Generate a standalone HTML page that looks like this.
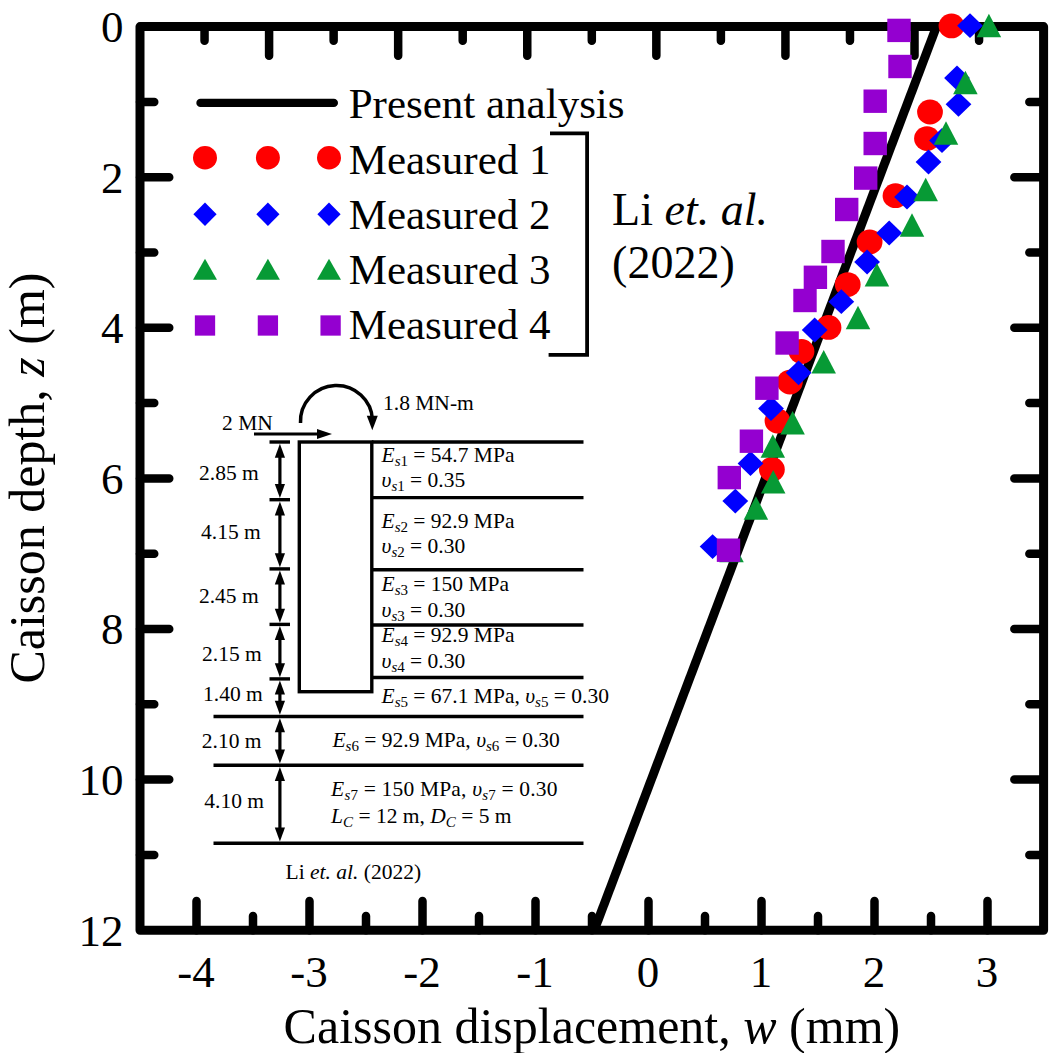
<!DOCTYPE html><html><head><meta charset="utf-8"><style>
html,body{margin:0;padding:0;background:#fff;}
svg{display:block;}
text{font-family:"Liberation Serif", serif;fill:#000;}
.it{font-style:italic;}
</style></head><body>
<svg width="1050" height="1053" viewBox="0 0 1050 1053">
<rect width="1050" height="1053" fill="#fff"/>
<g stroke="#000" fill="none" stroke-width="3.4">
<rect x="299.3" y="442" width="72.5" height="249.7"/>
<path d="M371.8 442H583.5"/>
<path d="M371.8 497.6H583.5"/>
<path d="M371.8 569.8H583.5"/>
<path d="M371.8 625H583.5"/>
<path d="M371.8 677.5H583.5"/>
<path d="M213.5 716.5H583.5"/>
<path d="M213.5 765.2H583.5"/>
<path d="M213.5 843.3H583.5"/>
<path d="M269.5 442H290"/>
<path d="M269.5 499.7H290"/>
<path d="M269.5 568.9H290"/>
<path d="M269.5 624.4H290"/>
<path d="M269.5 678.9H290"/>
</g>
<g stroke="#000" stroke-width="3.2" fill="none">
<path d="M279.9 455.7V486.0"/>
<path d="M279.9 513.4V555.1999999999999"/>
<path d="M279.9 582.6V610.6999999999999"/>
<path d="M279.9 638.1V665.1999999999999"/>
<path d="M279.9 692.6V702.8"/>
<path d="M279.9 730.2V751.5"/>
<path d="M279.9 778.9000000000001V829.5999999999999"/>
</g>
<g fill="#000">
<path d="M279.9 443.7L285 457.7L274.8 457.7Z"/>
<path d="M279.9 498.0L285 484.0L274.8 484.0Z"/>
<path d="M279.9 501.4L285 515.4L274.8 515.4Z"/>
<path d="M279.9 567.1999999999999L285 553.1999999999999L274.8 553.1999999999999Z"/>
<path d="M279.9 570.6L285 584.6L274.8 584.6Z"/>
<path d="M279.9 622.6999999999999L285 608.6999999999999L274.8 608.6999999999999Z"/>
<path d="M279.9 626.1L285 640.1L274.8 640.1Z"/>
<path d="M279.9 677.1999999999999L285 663.1999999999999L274.8 663.1999999999999Z"/>
<path d="M279.9 680.6L285 694.6L274.8 694.6Z"/>
<path d="M279.9 714.8L285 700.8L274.8 700.8Z"/>
<path d="M279.9 718.2L285 732.2L274.8 732.2Z"/>
<path d="M279.9 763.5L285 749.5L274.8 749.5Z"/>
<path d="M279.9 766.9000000000001L285 780.9000000000001L274.8 780.9000000000001Z"/>
<path d="M279.9 841.5999999999999L285 827.5999999999999L274.8 827.5999999999999Z"/>
</g>
<path d="M254 434H319" stroke="#000" stroke-width="3.2" fill="none"/>
<path d="M332 434L317 429L317 439Z" fill="#000"/>
<path d="M300.5 423A36 36 0 1 1 372.5 420" stroke="#000" stroke-width="3.5" fill="none"/>
<path d="M372.3 430.2L366.8 415.7L377.8 415.7Z" fill="#000"/>
<text x="222" y="430" font-size="21.5">2 MN</text>
<text x="383" y="409.7" font-size="21.5">1.8 MN-m</text>
<text x="199" y="479.8" font-size="21.5">2.85 m</text>
<text x="201" y="539.2" font-size="21.5">4.15 m</text>
<text x="198.9" y="603" font-size="21.5">2.45 m</text>
<text x="202" y="661.4" font-size="21.5">2.15 m</text>
<text x="203" y="700.6" font-size="21.5">1.40 m</text>
<text x="201.8" y="747.5" font-size="21.5">2.10 m</text>
<text x="204.3" y="808.3" font-size="21.5">4.10 m</text>
<text x="381.5" y="461.8" font-size="21.5"><tspan class="it">E</tspan><tspan class="it" font-size="15" dy="4">s</tspan><tspan font-size="15">1</tspan><tspan dy="-4"> = 54.7 MPa</tspan></text>
<text x="381.5" y="487.4" font-size="21.5"><tspan class="it">υ</tspan><tspan class="it" font-size="15" dy="4">s</tspan><tspan font-size="15">1</tspan><tspan dy="-4"> = 0.35</tspan></text>
<text x="381.5" y="527.5" font-size="21.5"><tspan class="it">E</tspan><tspan class="it" font-size="15" dy="4">s</tspan><tspan font-size="15">2</tspan><tspan dy="-4"> = 92.9 MPa</tspan></text>
<text x="381.5" y="552.7" font-size="21.5"><tspan class="it">υ</tspan><tspan class="it" font-size="15" dy="4">s</tspan><tspan font-size="15">2</tspan><tspan dy="-4"> = 0.30</tspan></text>
<text x="381.5" y="590.5" font-size="21.5"><tspan class="it">E</tspan><tspan class="it" font-size="15" dy="4">s</tspan><tspan font-size="15">3</tspan><tspan dy="-4"> = 150 MPa</tspan></text>
<text x="381.5" y="617" font-size="21.5"><tspan class="it">υ</tspan><tspan class="it" font-size="15" dy="4">s</tspan><tspan font-size="15">3</tspan><tspan dy="-4"> = 0.30</tspan></text>
<text x="381.5" y="642" font-size="21.5"><tspan class="it">E</tspan><tspan class="it" font-size="15" dy="4">s</tspan><tspan font-size="15">4</tspan><tspan dy="-4"> = 92.9 MPa</tspan></text>
<text x="381.5" y="668.3" font-size="21.5"><tspan class="it">υ</tspan><tspan class="it" font-size="15" dy="4">s</tspan><tspan font-size="15">4</tspan><tspan dy="-4"> = 0.30</tspan></text>
<text x="381.5" y="703" font-size="21.5"><tspan class="it">E</tspan><tspan class="it" font-size="15" dy="4">s</tspan><tspan font-size="15">5</tspan><tspan dy="-4"> = 67.1 MPa, </tspan><tspan class="it">υ</tspan><tspan class="it" font-size="15" dy="4">s</tspan><tspan font-size="15">5</tspan><tspan dy="-4"> = 0.30</tspan></text>
<text x="332.4" y="747.2" font-size="21.5"><tspan class="it">E</tspan><tspan class="it" font-size="15" dy="4">s</tspan><tspan font-size="15">6</tspan><tspan dy="-4"> = 92.9 MPa, </tspan><tspan class="it">υ</tspan><tspan class="it" font-size="15" dy="4">s</tspan><tspan font-size="15">6</tspan><tspan dy="-4"> = 0.30</tspan></text>
<text x="331.1" y="795.5" font-size="21.5" letter-spacing="0.18"><tspan class="it">E</tspan><tspan class="it" font-size="15" dy="4">s</tspan><tspan font-size="15">7</tspan><tspan dy="-4"> = 150 MPa, </tspan><tspan class="it">υ</tspan><tspan class="it" font-size="15" dy="4">s</tspan><tspan font-size="15">7</tspan><tspan dy="-4"> = 0.30</tspan></text>
<text x="331.1" y="822.8" font-size="21.5"><tspan class="it">L</tspan><tspan class="it" font-size="15" dy="4">C</tspan><tspan dy="-4"> = 12 m, </tspan><tspan class="it">D</tspan><tspan class="it" font-size="15" dy="4">C</tspan><tspan dy="-4"> = 5 m</tspan></text>
<text x="285.6" y="878.5" font-size="21.5">Li <tspan class="it">et. al.</tspan> (2022)</text>
<path d="M936.31 27L594.73 929" stroke="#000" stroke-width="9" fill="none"/>
<rect x="140.0" y="26.6" width="903.60" height="903.60" fill="none" stroke="#000" stroke-width="9.0" stroke-linejoin="round"/>
<path d="M196.50 930.20V900.95M253.00 930.20V915.95M309.50 930.20V900.95M366.00 930.20V915.95M422.50 930.20V900.95M479.00 930.20V915.95M535.50 930.20V900.95M592.00 930.20V915.95M648.50 930.20V900.95M705.00 930.20V915.95M761.50 930.20V900.95M818.00 930.20V915.95M874.50 930.20V900.95M931.00 930.20V915.95M987.50 930.20V900.95M204.54 26.60V40.85M269.09 26.60V55.85M333.63 26.60V40.85M398.17 26.60V55.85M462.71 26.60V40.85M527.26 26.60V55.85M591.80 26.60V40.85M656.34 26.60V55.85M720.89 26.60V40.85M785.43 26.60V55.85M849.97 26.60V40.85M914.51 26.60V55.85M979.06 26.60V40.85M140.00 101.90H154.25M1043.60 101.90H1029.35M140.00 177.20H169.25M1043.60 177.20H1014.35M140.00 252.50H154.25M1043.60 252.50H1029.35M140.00 327.80H169.25M1043.60 327.80H1014.35M140.00 403.10H154.25M1043.60 403.10H1029.35M140.00 478.40H169.25M1043.60 478.40H1014.35M140.00 553.70H154.25M1043.60 553.70H1029.35M140.00 629.00H169.25M1043.60 629.00H1014.35M140.00 704.30H154.25M1043.60 704.30H1029.35M140.00 779.60H169.25M1043.60 779.60H1014.35M140.00 854.90H154.25M1043.60 854.90H1029.35" stroke="#000" stroke-width="8.5" stroke-linecap="round" fill="none"/>
<g fill="#ff0000"><ellipse cx="951.5" cy="25.9" rx="12.9" ry="12.4"/><ellipse cx="930" cy="112" rx="12.9" ry="12.4"/><ellipse cx="927" cy="138.6" rx="12.9" ry="12.4"/><ellipse cx="895.5" cy="195.7" rx="12.9" ry="12.4"/><ellipse cx="869.6" cy="241.9" rx="12.9" ry="12.4"/><ellipse cx="847.7" cy="284.6" rx="12.9" ry="12.4"/><ellipse cx="828.5" cy="327.4" rx="12.9" ry="12.4"/><ellipse cx="801.5" cy="351.5" rx="12.9" ry="12.4"/><ellipse cx="789.9" cy="382.1" rx="12.9" ry="12.4"/><ellipse cx="777.5" cy="421" rx="12.9" ry="12.4"/><ellipse cx="771.9" cy="469.5" rx="12.9" ry="12.4"/></g>
<g fill="#0000ff"><path d="M957.10 25.70L970.00 13.30L982.90 25.70L970.00 38.10Z"/><path d="M944.10 78.00L957.00 65.60L969.90 78.00L957.00 90.40Z"/><path d="M945.60 104.30L958.50 91.90L971.40 104.30L958.50 116.70Z"/><path d="M929.10 140.50L942.00 128.10L954.90 140.50L942.00 152.90Z"/><path d="M915.60 162.00L928.50 149.60L941.40 162.00L928.50 174.40Z"/><path d="M894.10 197.00L907.00 184.60L919.90 197.00L907.00 209.40Z"/><path d="M876.30 233.00L889.20 220.60L902.10 233.00L889.20 245.40Z"/><path d="M854.20 262.00L867.10 249.60L880.00 262.00L867.10 274.40Z"/><path d="M828.40 301.70L841.30 289.30L854.20 301.70L841.30 314.10Z"/><path d="M801.80 330.00L814.70 317.60L827.60 330.00L814.70 342.40Z"/><path d="M785.70 372.80L798.60 360.40L811.50 372.80L798.60 385.20Z"/><path d="M758.10 408.50L771.00 396.10L783.90 408.50L771.00 420.90Z"/><path d="M737.60 463.50L750.50 451.10L763.40 463.50L750.50 475.90Z"/><path d="M722.40 501.10L735.30 488.70L748.20 501.10L735.30 513.50Z"/><path d="M699.70 546.60L712.60 534.20L725.50 546.60L712.60 559.00Z"/></g>
<g fill="#079a35"><path d="M976.65 37.25L988.90 13.75L1001.15 37.25Z"/><path d="M953.15 94.25L965.40 70.75L977.65 94.25Z"/><path d="M933.75 144.75L946.00 121.25L958.25 144.75Z"/><path d="M913.45 201.25L925.70 177.75L937.95 201.25Z"/><path d="M899.75 236.75L912.00 213.25L924.25 236.75Z"/><path d="M864.65 286.45L876.90 262.95L889.15 286.45Z"/><path d="M845.75 329.25L858.00 305.75L870.25 329.25Z"/><path d="M811.45 373.45L823.70 349.95L835.95 373.45Z"/><path d="M780.35 434.55L792.60 411.05L804.85 434.55Z"/><path d="M760.55 457.85L772.80 434.35L785.05 457.85Z"/><path d="M760.95 493.55L773.20 470.05L785.45 493.55Z"/><path d="M743.65 519.75L755.90 496.25L768.15 519.75Z"/><path d="M719.25 562.25L731.50 538.75L743.75 562.25Z"/></g>
<g fill="#9400d0"><rect x="887.30" y="18.70" width="23.4" height="23.4"/><rect x="888.30" y="54.80" width="23.4" height="23.4"/><rect x="863.50" y="89.50" width="23.4" height="23.4"/><rect x="863.50" y="131.80" width="23.4" height="23.4"/><rect x="854.00" y="166.40" width="23.4" height="23.4"/><rect x="835.00" y="197.80" width="23.4" height="23.4"/><rect x="821.30" y="239.80" width="23.4" height="23.4"/><rect x="803.70" y="265.60" width="23.4" height="23.4"/><rect x="793.30" y="288.80" width="23.4" height="23.4"/><rect x="775.40" y="331.30" width="23.4" height="23.4"/><rect x="755.20" y="376.50" width="23.4" height="23.4"/><rect x="739.70" y="429.50" width="23.4" height="23.4"/><rect x="717.60" y="465.90" width="23.4" height="23.4"/><rect x="716.80" y="538.50" width="23.4" height="23.4"/></g>
<path d="M200.5 102.9H333.8" stroke="#000" stroke-width="8.4" stroke-linecap="round"/>
<g fill="#ff0000"><ellipse cx="205" cy="157.8" rx="12.0" ry="11.7"/><ellipse cx="267.9" cy="157.8" rx="12.0" ry="11.7"/><ellipse cx="329" cy="157.8" rx="12.0" ry="11.7"/></g>
<g fill="#0000ff"><path d="M193.40 214.20L205.00 202.45L216.60 214.20L205.00 225.95Z"/><path d="M256.30 214.20L267.90 202.45L279.50 214.20L267.90 225.95Z"/><path d="M317.40 214.20L329.00 202.45L340.60 214.20L329.00 225.95Z"/></g>
<g fill="#079a35"><path d="M193.00 279.70L205.00 258.70L217.00 279.70Z"/><path d="M255.90 279.70L267.90 258.70L279.90 279.70Z"/><path d="M317.00 279.70L329.00 258.70L341.00 279.70Z"/></g>
<g fill="#9400d0"><rect x="194.85" y="315.35" width="20.3" height="20.3"/><rect x="257.75" y="315.35" width="20.3" height="20.3"/><rect x="320.45" y="315.35" width="20.3" height="20.3"/></g>
<text x="348.7" y="118.2" font-size="43">Present analysis</text>
<text x="348.7" y="173.8" font-size="43">Measured 1</text>
<text x="348.7" y="228.6" font-size="43">Measured 2</text>
<text x="348.7" y="283.8" font-size="43">Measured 3</text>
<text x="348.7" y="339.4" font-size="43">Measured 4</text>
<path d="M550 133.3H587.1V354.9H548.6" stroke="#000" stroke-width="3.8" fill="none"/>
<text x="612.1" y="224.8" font-size="46">Li <tspan class="it">et. al.</tspan></text>
<text x="612.1" y="278.3" font-size="46">(2022)</text>
<text x="123.6" y="41.900000000000006" font-size="45" text-anchor="end">0</text>
<text x="123.6" y="192.5" font-size="45" text-anchor="end">2</text>
<text x="123.6" y="343.1" font-size="45" text-anchor="end">4</text>
<text x="123.6" y="493.7" font-size="45" text-anchor="end">6</text>
<text x="123.6" y="644.3" font-size="45" text-anchor="end">8</text>
<text x="123.6" y="794.9" font-size="45" text-anchor="end">10</text>
<text x="123.6" y="945.4999999999999" font-size="45" text-anchor="end">12</text>
<text x="196.0" y="987" font-size="45" text-anchor="middle">-4</text>
<text x="309.0" y="987" font-size="45" text-anchor="middle">-3</text>
<text x="422.0" y="987" font-size="45" text-anchor="middle">-2</text>
<text x="535.0" y="987" font-size="45" text-anchor="middle">-1</text>
<text x="648.0" y="987" font-size="45" text-anchor="middle">0</text>
<text x="761.0" y="987" font-size="45" text-anchor="middle">1</text>
<text x="874.0" y="987" font-size="45" text-anchor="middle">2</text>
<text x="987.0" y="987" font-size="45" text-anchor="middle">3</text>
<text x="283.6" y="1042.5" font-size="50">Caisson displacement, <tspan class="it">w</tspan> (mm)</text>
<text x="0" y="0" font-size="50" transform="translate(44.2 683.6) rotate(-90)">Caisson depth, <tspan class="it">z</tspan> (m)</text>
</svg></body></html>
